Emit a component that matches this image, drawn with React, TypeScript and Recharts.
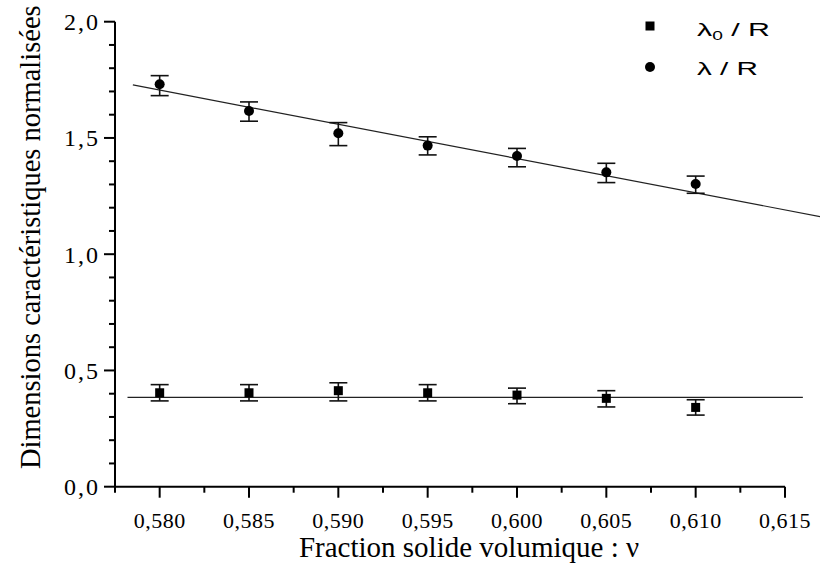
import React from "react"
import {
  ErrorBar,
  ReferenceLine,
  Scatter,
  ScatterChart,
  XAxis,
  YAxis,
} from "recharts"

// solid volume fraction of each measurement
const fractions = [0.58, 0.585, 0.59, 0.595, 0.6, 0.605, 0.61]

// lambda0 / R with asymmetric error bars
const lambda0 = [0.404, 0.404, 0.413, 0.404, 0.394, 0.38, 0.341]
const lambda0ErrLow = [0.035, 0.035, 0.044, 0.035, 0.037, 0.037, 0.033]
const lambda0ErrHigh = [0.035, 0.035, 0.034, 0.035, 0.03, 0.033, 0.033]

// lambda / R with asymmetric error bars
const lambda = [1.731, 1.616, 1.52, 1.467, 1.422, 1.352, 1.302]
const lambdaErrLow = [0.049, 0.044, 0.053, 0.04, 0.046, 0.044, 0.04]
const lambdaErrHigh = [0.037, 0.039, 0.046, 0.038, 0.033, 0.039, 0.034]

// fitted lines (end points)
const lambdaFit = [
  { x: 0.5785, y: 1.728 },
  { x: 0.617, y: 1.161 },
]
const lambda0Fit = [
  { x: 0.5782, y: 0.384 },
  { x: 0.616, y: 0.384 },
]

const xTicks = [
  0.5775, 0.58, 0.5825, 0.585, 0.5875, 0.59, 0.5925, 0.595, 0.5975, 0.6,
  0.6025, 0.605, 0.6075, 0.61, 0.6125, 0.615,
]
const xTickLabels = ["0,580", "0,585", "0,590", "0,595", "0,600", "0,605", "0,610", "0,615"]
const yTicks = [
  0, 0.1, 0.2, 0.3, 0.4, 0.5, 0.6, 0.7, 0.8, 0.9, 1, 1.1, 1.2, 1.3, 1.4, 1.5,
  1.6, 1.7, 1.8, 1.9, 2,
]
const yTickLabels = ["0,0", "0,5", "1,0", "1,5", "2,0"]

const lambda0Data = fractions.map((x, i) => ({
  x,
  y: lambda0[i],
  err: [lambda0ErrLow[i], lambda0ErrHigh[i]],
}))
const lambdaData = fractions.map((x, i) => ({
  x,
  y: lambda[i],
  err: [lambdaErrLow[i], lambdaErrHigh[i]],
}))

const SERIF = "'Liberation Serif', 'Times New Roman', serif"
const SANS = "'Liberation Sans', Arial, sans-serif"

const XTick = (props: any) => {
  const { x, y, payload } = props
  const v = payload.value as number
  const k = Math.round(((v - 0.58) / 0.005) * 2)
  const major = k % 2 === 0 && k >= 0
  return (
    <g>
      <line x1={x} x2={x} y1={y} y2={y + (major ? 11 : 6)} stroke="#000" strokeWidth={2} />
      {major && (
        <text
          x={x}
          y={y + 41}
          textAnchor="middle"
          style={{ fontFamily: SERIF, fontSize: 22, letterSpacing: 0.5 }}
          fill="#000"
        >
          {xTickLabels[k / 2]}
        </text>
      )}
    </g>
  )
}

const YTick = (props: any) => {
  const { x, y, payload } = props
  const v = payload.value as number
  const k = Math.round(v * 10)
  const major = k % 5 === 0
  return (
    <g>
      <line x1={x - (major ? 11 : 6)} x2={x} y1={y} y2={y} stroke="#000" strokeWidth={2} />
      {major && (
        <text
          x={x - 15}
          y={y}
          dy="0.35em"
          textAnchor="end"
          style={{ fontFamily: SERIF, fontSize: 24, letterSpacing: 2 }}
          fill="#000"
        >
          {yTickLabels[k / 5]}
        </text>
      )}
    </g>
  )
}

const Square = (p: any) => (
  <rect x={p.cx - 4.5} y={p.cy - 4.5} width={9} height={9} fill="#000" />
)
const Dot = (p: any) => <circle cx={p.cx} cy={p.cy} r={5} fill="#000" />

const LegendBox = () => (
  <svg width={180} height={90} style={{ position: "absolute", left: 640, top: 0 }}>
    <rect x={5.5} y={21.5} width={9} height={9} fill="#000" />
    <text
      x={57}
      y={36}
      style={{ fontFamily: SANS, fontSize: 19 }}
      fill="#000"
      textLength={73}
      lengthAdjust="spacingAndGlyphs"
    >
      λ<tspan fontSize={12} dy={4}>0</tspan>
      <tspan dy={-4}> / R</tspan>
    </text>
    <circle cx={10} cy={67} r={5} fill="#000" />
    <text
      x={57}
      y={75}
      style={{ fontFamily: SANS, fontSize: 19 }}
      fill="#000"
      textLength={61}
      lengthAdjust="spacingAndGlyphs"
    >
      λ / R
    </text>
  </svg>
)

export default function App() {
  return (
    <div style={{ position: "absolute", left: 0, top: 0, width: 820, height: 578 }}>
      <ScatterChart
        width={820}
        height={578}
        margin={{ top: 21.7, right: 35, bottom: 31.3, left: 55 }}
      >
        <XAxis
          type="number"
          dataKey="x"
          domain={[0.5775, 0.615]}
          ticks={xTicks}
          interval={0}
          height={60}
          axisLine={{ stroke: "#000", strokeWidth: 2 }}
          tickLine={false}
          tickSize={0}
          tickMargin={0}
          tick={<XTick />}
          label={(p: any) => (
            <text
              x={p.viewBox.x + p.viewBox.width / 2 + 19}
              y={557}
              textAnchor="middle"
              style={{ fontFamily: SERIF, fontSize: 29 }}
              fill="#000"
            >
              Fraction solide volumique : ν
            </text>
          )}
        />
        <YAxis
          type="number"
          dataKey="y"
          domain={[0, 2]}
          ticks={yTicks}
          interval={0}
          width={60}
          axisLine={{ stroke: "#000", strokeWidth: 2 }}
          tickLine={false}
          tickSize={0}
          tickMargin={0}
          tick={<YTick />}
          label={(p: any) => {
            const cx = 31
            const cy = p.viewBox.y + p.viewBox.height / 2 - 17
            return (
              <text
                x={cx}
                y={cy}
                transform={`rotate(-90, ${cx}, ${cy})`}
                textAnchor="middle"
                dominantBaseline="central"
                style={{ fontFamily: SERIF, fontSize: 28.5 }}
                fill="#000"
              >
                Dimensions caractéristiques normalisées
              </text>
            )
          }}
        />
        <ReferenceLine
          segment={lambdaFit}
          stroke="#222"
          strokeWidth={1.2}
          ifOverflow="visible"
        />
        <ReferenceLine
          segment={lambda0Fit}
          stroke="#222"
          strokeWidth={1.2}
          ifOverflow="visible"
        />
        <Scatter name="λ0 / R" data={lambda0Data} shape={Square} isAnimationActive={false}>
          <ErrorBar dataKey="err" direction="y" width={9} stroke="#111" strokeWidth={1.6} />
        </Scatter>
        <Scatter name="λ / R" data={lambdaData} shape={Dot} isAnimationActive={false}>
          <ErrorBar dataKey="err" direction="y" width={9} stroke="#111" strokeWidth={1.6} />
        </Scatter>
      </ScatterChart>
      <LegendBox />
    </div>
  )
}
